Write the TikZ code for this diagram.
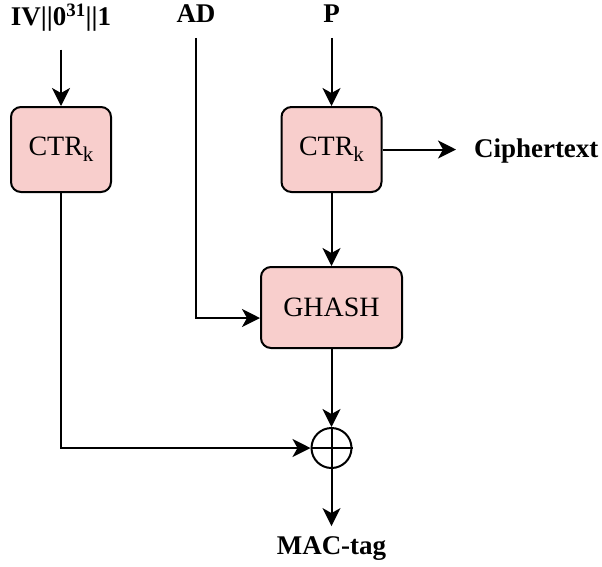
\documentclass[tikz,border=0pt]{standalone}
\usepackage{fontspec}
\setmainfont{Liberation Serif}
\usetikzlibrary{arrows.meta}
\definecolor{boxfill}{HTML}{F8CECC}
\newcommand{\ctrlabel}{CTR\raisebox{-6pt}{\fontsize{21}{22}\selectfont k}}
\begin{document}
\begin{tikzpicture}[x=1pt,y=-1pt,
  line width=2pt,
  >={Stealth[length=18pt,width=18pt,inset=5pt]},
  blk/.style={draw, fill=boxfill, rounded corners=10pt, line width=2pt,
    minimum width=100pt, minimum height=85pt, inner sep=0pt,
    font=\fontsize{28}{32}\selectfont},
  lbl/.style={inner sep=0pt, font=\fontsize{27}{32}\selectfont\bfseries}]
\useasboundingbox (0,0) rectangle (602,566);

% processing blocks
\node[blk] (ctrA) at (61,149.5) {\ctrlabel};
\node[blk] (ctrB) at (331.5,149.5) {\ctrlabel};
\node[blk, minimum width=141pt, minimum height=81pt] (gh) at (331.5,307.5) {GHASH};
\node[circle, draw, minimum size=40pt, inner sep=0pt] (xor) at (331.5,448) {};
\draw (xor.north) -- (xor.south) (xor.west) -- (xor.east);

% inputs and outputs
\node[lbl] (iv) at (61,18) {IV||0\textsuperscript{31}||1};
\node[lbl] (ad) at (196,14) {AD};
\node[lbl] (p) at (331.5,14) {P};
\node[lbl, anchor=west] (ct) at (473,151) {Ciphertext};
\node[lbl] (mac) at (331.5,549) {MAC-tag};

% data flow
\draw[->, shorten <=17pt] (iv) -- (ctrA);
\draw[->, shorten <=14pt] (p) -- (ctrB);
\draw[->, shorten >=17pt] (ctrB) -- (ctrB -| ct.west);
\draw[->, shorten <=14pt] (ad.south) |- ([yshift=-10.5pt]gh.west);
\draw[->] (ctrB) -- (gh);
\draw[->] (gh) -- (xor);
\draw[->] (ctrA.south) |- (xor.west);
\draw[->, shorten >=10pt] (xor) -- (mac);
\end{tikzpicture}
\end{document}
